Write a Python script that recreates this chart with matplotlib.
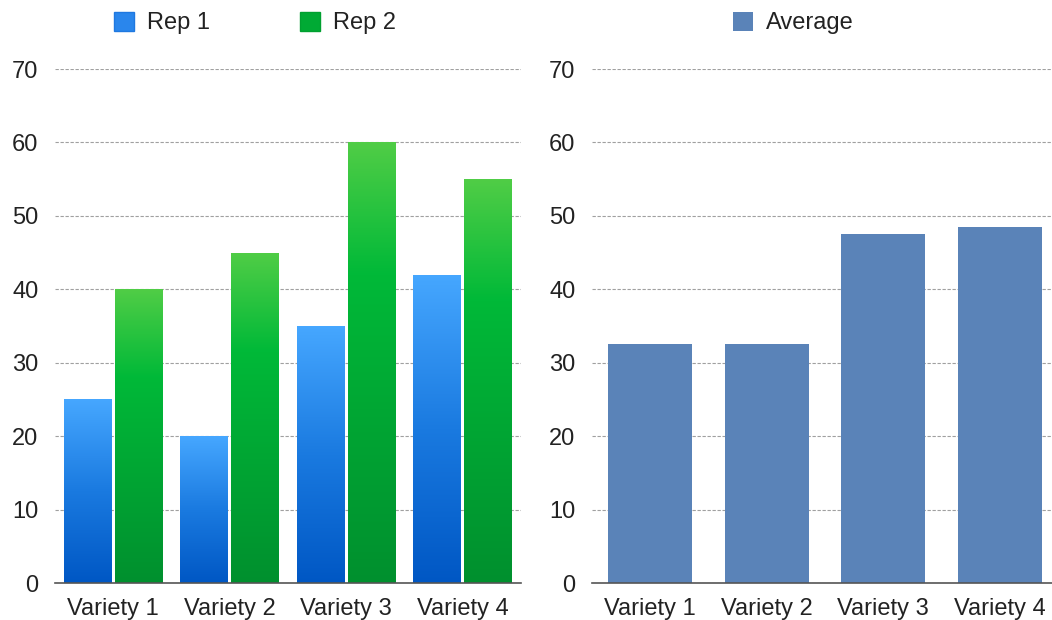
import numpy as np
import matplotlib
matplotlib.use("Agg")
import matplotlib.pyplot as plt
from matplotlib.colors import LinearSegmentedColormap
from matplotlib.patches import Patch

categories = ["Variety 1", "Variety 2", "Variety 3", "Variety 4"]
rep1 = [25, 20, 35, 42]
rep2 = [40, 45, 60, 55]
average = [32.5, 32.5, 47.5, 48.5]
yticks = [0, 10, 20, 30, 40, 50, 60, 70]

plt.rcParams['font.family'] = ['Liberation Sans', 'DejaVu Sans']
FS = 17

blue_cmap = LinearSegmentedColormap.from_list("b", ["#0057c4", "#1a7ae0", "#46a7ff"])
green_cmap = LinearSegmentedColormap.from_list("g", [(0, "#00902e"), (0.7, "#00b938"), (1.0, "#50cd46")])
avg_color = "#5a83b8"

fig = plt.figure(figsize=(10.52, 6.2), dpi=100)
axL = fig.add_axes([55/1052, 37/620, 466/1052, 514/620])
axR = fig.add_axes([592/1052, 37/620, 466/1052, 514/620])

def style(ax):
    ax.set_ylim(0, 70)
    ax.set_xlim(-0.5, 3.5)
    ax.set_yticks(yticks)
    ax.set_xticks(range(len(categories)))
    ax.set_xticklabels(categories)
    ax.tick_params(axis='y', length=0, pad=12, labelsize=FS, labelcolor="#222222")
    ax.tick_params(axis='x', length=0, pad=10.5, labelsize=FS, labelcolor="#222222")
    for s in ["top", "right", "left"]:
        ax.spines[s].set_visible(False)
    ax.spines["bottom"].set_color("#555555")
    ax.spines["bottom"].set_linewidth(1.2)
    ax.spines["bottom"].set_zorder(5)
    ax.yaxis.grid(True, linestyle=(0, (3, 1.5)), color="#a0a0a0", linewidth=0.8)
    ax.set_axisbelow(True)

def gradient_bars(ax, xs, hs, width, cmap):
    bars = ax.bar(xs, hs, width=width, color="none", edgecolor="none", zorder=3)
    grad = np.linspace(0, 1, 256).reshape(-1, 1)
    for b in bars:
        x0, y0 = b.get_x(), b.get_y()
        w, h = b.get_width(), b.get_height()
        im = ax.imshow(grad, cmap=cmap, origin="lower", aspect="auto",
                       extent=[x0, x0 + w, y0, y0 + h], zorder=3)
        im.set_clip_path(b)
    return bars

x = np.arange(len(categories))
style(axL)
gradient_bars(axL, x - 0.22, rep1, 0.41, blue_cmap)
gradient_bars(axL, x + 0.22, rep2, 0.41, green_cmap)
axL.set_xlim(-0.5, 3.5)
axL.set_ylim(0, 70)

style(axR)
axR.bar(x, average, width=0.72, color=avg_color, zorder=3)
axR.set_xlim(-0.5, 3.5)
axR.set_ylim(0, 70)

h1 = [Patch(facecolor="#2a86ec", edgecolor="#1f78e0"), Patch(facecolor="#00aa34", edgecolor="#00a030")]
fig.legend(h1, ["Rep 1", "Rep 2"], loc="center", bbox_to_anchor=(255/1052, 1 - 23/620),
           ncol=2, frameon=False, fontsize=FS, handlelength=0.85, handleheight=0.85,
           handletextpad=0.55, columnspacing=3.8, labelcolor="#222222")
h2 = [Patch(facecolor=avg_color)]
fig.legend(h2, ["Average"], loc="center", bbox_to_anchor=(793/1052, 1 - 23/620),
           frameon=False, fontsize=FS, handlelength=0.85, handleheight=0.85,
           handletextpad=0.55, labelcolor="#222222")

fig.savefig("out.png", dpi=100)
